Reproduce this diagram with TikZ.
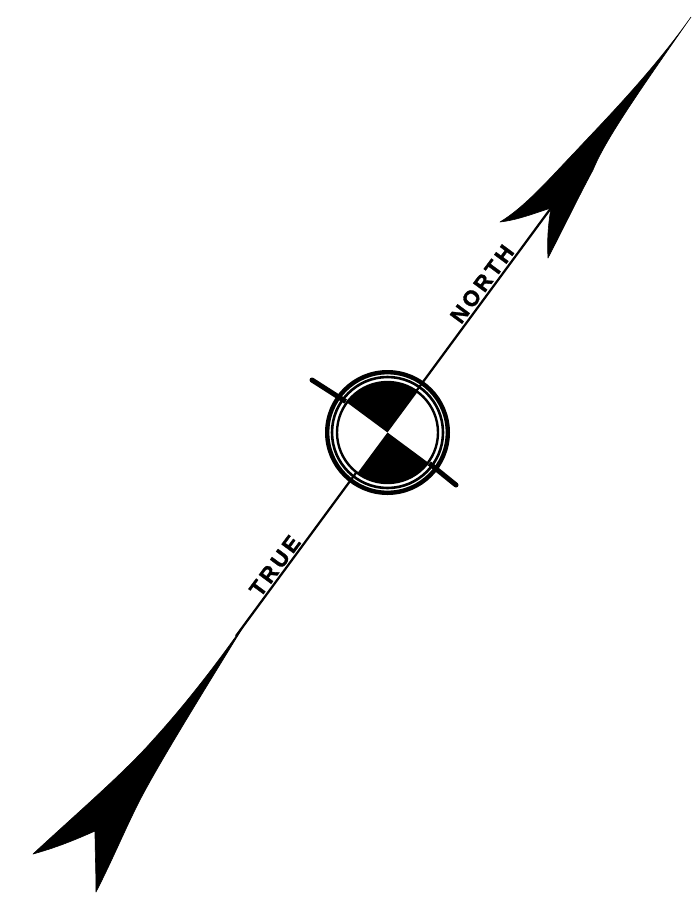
\documentclass[tikz,border=0pt]{standalone}
\usepackage{fontspec}
\usetikzlibrary{calc}
\newfontfamily\lab[LetterSpace=14,BoldFont={Liberation Sans Bold},BoldFeatures={FakeBold=1.5}]{Liberation Sans}
\tikzset{
  ring/.style={draw=black,fill=none},
  lettering/.style={font=\lab\bfseries\fontsize{22}{22}\selectfont,inner sep=0pt,rotate=53.5,text=black},
  shaft/.style={draw=black,line width=2.2pt},
  bar/.style={draw=black,line width=5pt},
  barend/.style={fill=black},
  arrowfill/.style={fill=black,draw=black,line width=.6pt,line join=round},
}
\begin{document}
\begin{tikzpicture}[x=1pt,y=-1pt]
\useasboundingbox (0,0) rectangle (691,905);
\fill[white] (0,0) rectangle (691,905);
\coordinate (c) at (387.5,432.5);
\coordinate (nw) at (312,380);
\coordinate (se) at (456,485);
\coordinate (s) at (236,636);
\coordinate (n) at (551,208);
\coordinate (nwin) at ($(c)+(143.5:52pt)$);
\coordinate (sein) at ($(c)+(-36.5:52pt)$);
% upper arrow
\filldraw[arrowfill] (691,17) .. controls (650,75) and (600,125) .. (575,152)
  .. controls (550,178) and (525,207) .. (500,222)
  .. controls (518,220) and (535,213) .. (551,208)
  .. controls (548,225) and (547,242) .. (548,258)
  .. controls (565,225) and (582,190) .. (593,170)
  .. controls (605,140) and (640,90) .. (691,17) -- cycle;
% lower arrow
\filldraw[arrowfill] (249,617.5) .. controls (220,660) and (185,705) .. (153,740)
  .. controls (125,772) and (75,815) .. (33,854)
  .. controls (55,848) and (75,840) .. (95,831)
  .. controls (95,850) and (96,870) .. (96,892)
  .. controls (110,865) and (125,830) .. (135,810)
  .. controls (150,778) and (195,705) .. (249,617.5) -- cycle;
% shaft and bar
\draw[shaft] (s) -- (n);
% circle interior
\fill[white] (c) circle[radius=50.5pt];
% quadrants
\fill[black] (c) -- ($(c)+(53.5:50.5pt)$) arc[start angle=53.5,end angle=143.5,radius=50.5pt] -- cycle;
\fill[black] (c) -- ($(c)+(233.5:50.5pt)$) arc[start angle=233.5,end angle=323.5,radius=50.5pt] -- cycle;
% rings
\draw[ring,line width=4.4pt] (c) circle[radius=60.3pt];
\draw[ring,line width=2.6pt] (c) circle[radius=55.5pt];
\draw[ring,line width=2.4pt] (c) circle[radius=50.5pt];
\draw[bar] (nw) -- (nwin);
\draw[bar] (se) -- (sein);
\fill[barend] (nw) circle[radius=2.5pt];
\fill[barend] (se) circle[radius=2.5pt];
% lettering
\node[lettering] (true) at (275,566) {TRUE};
\node[lettering] (north) at (482,284) {NORTH};
\end{tikzpicture}
\end{document}
